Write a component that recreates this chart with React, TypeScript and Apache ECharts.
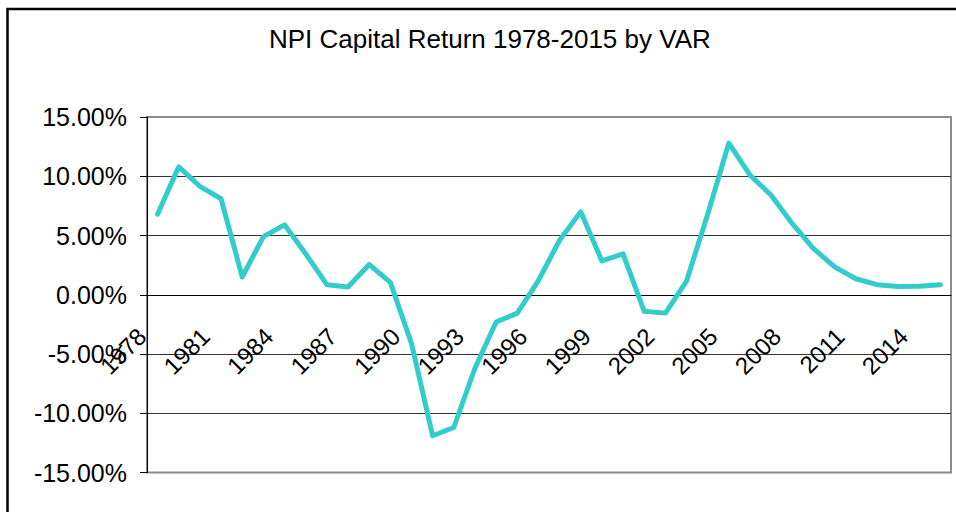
import React, { useEffect, useRef } from "react";
import * as echarts from "echarts";

const titleText = "NPI Capital Return 1978-2015 by VAR";

const years: string[] = [
  "1978", "1979", "1980", "1981", "1982", "1983", "1984", "1985", "1986", "1987",
  "1988", "1989", "1990", "1991", "1992", "1993", "1994", "1995", "1996", "1997",
  "1998", "1999", "2000", "2001", "2002", "2003", "2004", "2005", "2006", "2007",
  "2008", "2009", "2010", "2011", "2012", "2013", "2014", "2015",
];

// Capital return, percent
const capitalReturn: number[] = [
  6.8, 10.8, 9.15, 8.1, 1.5, 4.9, 5.9, 3.45, 0.85, 0.65,
  2.55, 1.05, -4.1, -11.9, -11.2, -6.2, -2.3, -1.55, 1.2, 4.6,
  7.0, 2.85, 3.45, -1.4, -1.55, 1.15, 6.8, 12.8, 10.1, 8.4,
  6.0, 3.9, 2.35, 1.35, 0.85, 0.7, 0.72, 0.85,
];

const yMin = -15;
const yMax = 15;
const yStep = 5;

const GRID_TOP = 117;
const GRID_BOTTOM_Y = 472.5;

export default function App() {
  const ref = useRef<HTMLDivElement>(null);

  useEffect(() => {
    if (!ref.current) return;
    const chart = echarts.init(ref.current, null, { renderer: "svg" });
    const font = "'Liberation Sans', Arial, sans-serif";
    // place the category axis at the zero level of the value axis
    const zeroOffset = -((GRID_BOTTOM_Y - GRID_TOP) * (0 - yMin)) / (yMax - yMin);
    chart.setOption({
      animation: false,
      backgroundColor: "#ffffff",
      title: {
        text: titleText,
        left: 269,
        top: 26,
        padding: 0,
        textStyle: {
          fontFamily: font,
          fontSize: 26,
          fontWeight: "normal",
          color: "#000000",
        },
      },
      graphic: [
        {
          type: "rect",
          shape: { x: 7.5, y: 9, width: 1000, height: 600 },
          style: { fill: "none", stroke: "#000000", lineWidth: 2.5 },
          silent: true,
        },
      ],
      grid: {
        left: 147,
        right: 5,
        top: GRID_TOP,
        bottom: 512 - GRID_BOTTOM_Y,
        show: true,
        containLabel: false,
        outerBoundsMode: "none",
        borderColor: "#8c8c8c",
        borderWidth: 2,
        backgroundColor: "transparent",
      },
      xAxis: {
        type: "category",
        data: years,
        boundaryGap: true,
        position: "bottom",
        offset: zeroOffset,
        axisLine: { onZero: false, lineStyle: { color: "#000000", width: 1 } },
        axisTick: { show: false },
        splitLine: { show: false },
        axisLabel: {
          interval: 2,
          rotate: 45,
          margin: 22,
          padding: [0, 22, 0, 0],
          hideOverlap: false,
          fontFamily: font,
          fontSize: 24,
          color: "#000000",
        },
      },
      yAxis: {
        type: "value",
        min: yMin,
        max: yMax,
        interval: yStep,
        axisLine: { show: true, lineStyle: { color: "#000000", width: 1 } },
        axisTick: { show: true, length: 7, lineStyle: { color: "#000000" } },
        splitLine: {
          show: true,
          showMinLine: false,
          showMaxLine: false,
          lineStyle: { color: "#333333", width: 1 },
        },
        axisLabel: {
          margin: 20,
          fontFamily: font,
          fontSize: 25,
          color: "#000000",
          formatter: (v: number) => v.toFixed(2) + "%",
        },
      },
      series: [
        {
          type: "line",
          data: capitalReturn,
          symbol: "none",
          smooth: false,
          lineStyle: { color: "#33CCCC", width: 5, cap: "round", join: "round" },
          itemStyle: { color: "#33CCCC" },
        },
      ],
    });
    return () => chart.dispose();
  }, []);

  return (
    <div
      ref={ref}
      style={{ position: "fixed", left: 0, top: 0, width: 956, height: 512 }}
    />
  );
}
